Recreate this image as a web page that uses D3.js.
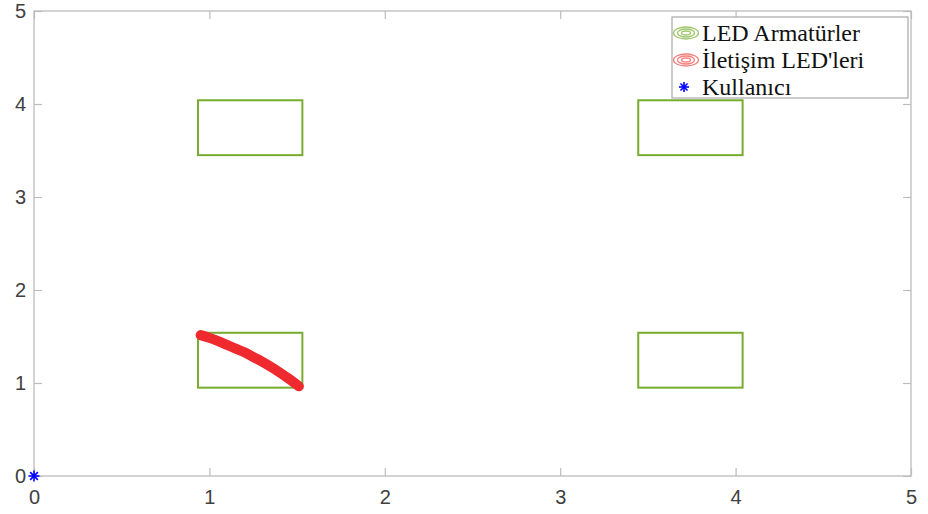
<!DOCTYPE html>
<html>
<head>
<meta charset="utf-8">
<script src="https://cdn.jsdelivr.net/npm/d3@7"></script>
<style>
  html, body { margin: 0; padding: 0; background: #fff; }
  svg { display: block; }
</style>
</head>
<body>
<svg id="chart" width="928" height="514"></svg>
<script>
// Tick values on both axes
const xTicks = [0, 1, 2, 3, 4, 5];
const yTicks = [0, 1, 2, 3, 4, 5];

// LED fixture footprints: [x0, x1, y0, y1]
const fixtureX0 = [0.935, 3.445, 0.935, 3.445];
const fixtureX1 = [1.53, 4.04, 1.53, 4.04];
const fixtureY0 = [3.45, 3.45, 0.95, 0.95];
const fixtureY1 = [4.04, 4.04, 1.54, 1.54];

// Communication LED positions along the arc
const commX = [0.95, 1.00, 1.05, 1.10, 1.15, 1.20, 1.25, 1.30, 1.35, 1.40, 1.45, 1.49, 1.51];
const commY = [1.515, 1.485, 1.45, 1.41, 1.37, 1.33, 1.28, 1.23, 1.175, 1.115, 1.05, 0.995, 0.965];

// User position
const userX = [0];
const userY = [0];

// Legend entries
const legendLabels = ["LED Armatürler", "İletişim LED'leri", "Kullanıcı"];

const svg = d3.select("#chart");
const mLeft = 34, mRight = 911, mTop = 11, mBottom = 476;

const x = d3.scaleLinear().domain([0, 5]).range([mLeft, mRight]);
const y = d3.scaleLinear().domain([0, 5]).range([mBottom, mTop]);

const axisColor = "#bcbcbc";
const tickLen = 8;
const green = "#77ac30";
const red = "#ee2a2f";
const blue = "#0000ff";

// Axes box
svg.append("rect")
  .attr("x", mLeft).attr("y", mTop)
  .attr("width", mRight - mLeft).attr("height", mBottom - mTop)
  .attr("fill", "none").attr("stroke", axisColor).attr("stroke-width", 1.3);

// Axes on all four sides, ticks pointing inward
const xAxis = svg.append("g").attr("transform", `translate(0,${mBottom})`)
  .call(d3.axisBottom(x).tickValues(xTicks).tickSize(-tickLen).tickPadding(14).tickFormat(d3.format("d")));
const yAxis = svg.append("g").attr("transform", `translate(${mLeft},0)`)
  .call(d3.axisLeft(y).tickValues(yTicks).tickSize(-tickLen).tickPadding(8).tickFormat(d3.format("d")));
const xAxisTop = svg.append("g").attr("transform", `translate(0,${mTop})`)
  .call(d3.axisTop(x).tickValues(xTicks).tickSize(-tickLen).tickFormat(""));
const yAxisRight = svg.append("g").attr("transform", `translate(${mRight},0)`)
  .call(d3.axisRight(y).tickValues(yTicks).tickSize(-tickLen).tickFormat(""));

[xAxis, yAxis, xAxisTop, yAxisRight].forEach(g => {
  g.select(".domain").remove();
  g.selectAll(".tick line").attr("stroke", axisColor).attr("stroke-width", 1.2);
  g.selectAll(".tick text")
    .attr("fill", "#404040")
    .style("font-family", "'Liberation Sans', Arial, sans-serif")
    .style("font-size", "20px");
});
xAxis.selectAll(".tick text").attr("dy", "0.71em");

// LED fixtures
svg.append("g").selectAll("rect")
  .data(fixtureX0.map((d, i) => ({ x0: d, x1: fixtureX1[i], y0: fixtureY0[i], y1: fixtureY1[i] })))
  .join("rect")
  .attr("x", d => x(d.x0))
  .attr("y", d => y(d.y1))
  .attr("width", d => x(d.x1) - x(d.x0))
  .attr("height", d => y(d.y0) - y(d.y1))
  .attr("fill", "none")
  .attr("stroke", green)
  .attr("stroke-width", 2);

// Communication LEDs arc
const commPts = commX.map((d, i) => [d, commY[i]]);
svg.append("path")
  .datum(commPts)
  .attr("d", d3.line().x(d => x(d[0])).y(d => y(d[1])).curve(d3.curveCatmullRom))
  .attr("fill", "none")
  .attr("stroke", red)
  .attr("stroke-width", 10)
  .attr("stroke-linecap", "round")
  .attr("stroke-linejoin", "round");

// Asterisk marker
function asterisk(g, cx, cy, r, color, w) {
  for (let k = 0; k < 4; k++) {
    const a = k * Math.PI / 4;
    g.append("line")
      .attr("x1", cx - r * Math.cos(a)).attr("y1", cy - r * Math.sin(a))
      .attr("x2", cx + r * Math.cos(a)).attr("y2", cy + r * Math.sin(a))
      .attr("stroke", color).attr("stroke-width", w);
  }
}
const userG = svg.append("g");
userX.forEach((d, i) => asterisk(userG, x(d), y(userY[i]), 5.5, blue, 1.6));

// Legend
const lg = svg.append("g");
lg.append("rect")
  .attr("x", 672).attr("y", 17).attr("width", 236).attr("height", 81)
  .attr("fill", "#fff").attr("stroke", "#a8a8a8").attr("stroke-width", 1.2);

const rowY = [33, 60, 87];
function rings(g, cx, cy, color) {
  [[12.5, 6], [8.5, 4], [4.5, 2]].forEach(([rx, ry]) => {
    g.append("ellipse").attr("cx", cx).attr("cy", cy).attr("rx", rx).attr("ry", ry)
      .attr("fill", "none").attr("stroke", color).attr("stroke-width", 1.3).attr("opacity", 0.7);
  });
}
rings(lg, 686, rowY[0], green);
rings(lg, 686, rowY[1], "#f04848");
asterisk(lg, 684, rowY[2], 5, blue, 1.6);

lg.selectAll("text")
  .data(legendLabels)
  .join("text")
  .attr("x", 702)
  .attr("y", (d, i) => rowY[i])
  .attr("dy", "0.35em")
  .attr("fill", "#111")
  .style("font-family", "'Liberation Serif', 'Times New Roman', serif")
  .style("font-size", "24px")
  .text(d => d);
</script>
</body>
</html>
